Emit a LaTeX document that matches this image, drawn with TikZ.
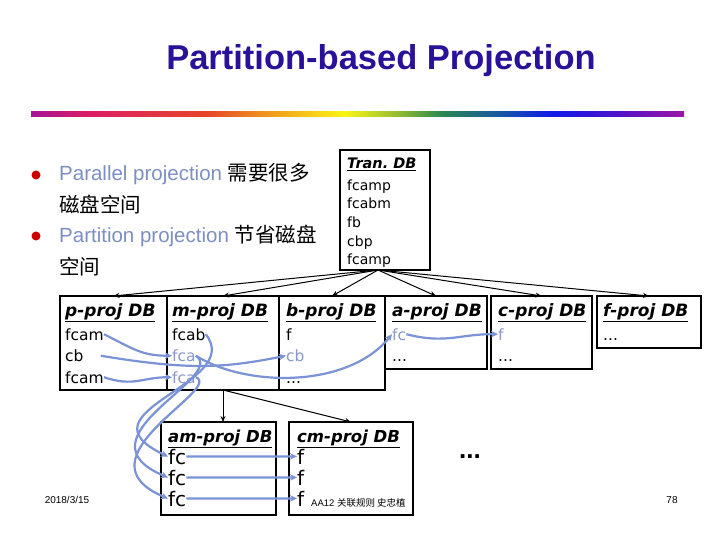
\documentclass[tikz,border=0pt]{standalone}
\usepackage{fontspec}
\setmainfont{Liberation Sans}
\newfontfamily\cjk{Noto Sans CJK SC}
\newfontfamily\dbfont{DejaVu Sans}
\usetikzlibrary{positioning, calc, arrows.meta}

\definecolor{titleblue}{RGB}{42,17,153}
\definecolor{softblue}{RGB}{125,143,192}
\definecolor{movedtext}{RGB}{136,152,200}
\definecolor{linkblue}{RGB}{122,146,214}
\definecolor{dotred}{RGB}{204,0,0}
\definecolor{rb0}{RGB}{165,20,150}
\definecolor{rb1}{RGB}{220,30,100}
\definecolor{rb2}{RGB}{230,70,40}
\definecolor{rb3}{RGB}{240,150,30}
\definecolor{rb4}{RGB}{250,245,20}
\definecolor{rb5}{RGB}{150,190,50}
\definecolor{rb6}{RGB}{40,135,80}
\definecolor{rb7}{RGB}{25,85,165}
\definecolor{rb8}{RGB}{15,25,235}
\definecolor{rb9}{RGB}{80,20,200}
\definecolor{rb10}{RGB}{155,20,165}
% the path covers 25bp to 75bp of the shading
\pgfdeclarehorizontalshading{rainbow}{100bp}{color(0bp)=(rb0); color(25bp)=(rb0);
  color(29.5bp)=(rb1); color(38.5bp)=(rb2); color(43bp)=(rb3); color(49bp)=(rb4);
  color(53bp)=(rb5); color(56.5bp)=(rb6); color(61bp)=(rb7); color(65bp)=(rb8);
  color(70bp)=(rb9); color(75bp)=(rb10); color(100bp)=(rb10)}

\tikzset{
  > = {Stealth[length = 6pt, width = 5pt]},
  dbbox/.style 2 args = {draw, line width = 1.1pt, anchor = north west,
    inner sep = 0, outer sep = 0, minimum width = #1, minimum height = #2},
  dbhead/.style = {anchor = base west, inner sep = 0,
    font = \dbfont\bfseries\itshape\fontsize{#1}{20}\selectfont},
  dbhead/.default = 17,
  dbline/.style = {anchor = base west, inner sep = 0,
    font = \dbfont\fontsize{#1}{20}\selectfont},
  dbline/.default = 15.5,
  moved/.style = {dbline = #1, text = movedtext},
  moved/.default = 15.5,
  bullettext/.style = {anchor = base west, inner sep = 0,
    font = \fontsize{20.5}{24}\selectfont},
  bulletdot/.style = {circle, fill = dotred, inner sep = 0, minimum size = 9pt},
  feed/.style = {->, line width = 1pt},
  projlink/.style = {-{Stealth[length = 7pt, width = 6.5pt]}, draw = linkblue,
    line width = 2.2pt}
}

\begin{document}
\begin{tikzpicture}[x = 1pt, y = -1pt]
\useasboundingbox (0,0) rectangle (720,540);

%% Title and rule
\node [font = \bfseries\fontsize{34.5}{40}\selectfont, text = titleblue] (title)
  at (381,61) {Partition-based Projection};
\shade [shading = rainbow] (31,112) rectangle (684,117);

%% Bullets
\node [bulletdot] (d1) at (36,175) {};
\node [bullettext] (l1) at (59,181) {\textcolor{softblue}{Parallel projection} {\cjk 需要很多}};
\node [bullettext] (l2) at (59,213) {\cjk 磁盘空间};
\node [bulletdot] (d2) at (36,236) {};
\node [bullettext] (l3) at (59,242) {\textcolor{softblue}{Partition projection} {\cjk 节省磁盘}};
\node [bullettext] (l4) at (59,274) {\cjk 空间};

%% Tran. DB
\node [dbbox = {90pt}{120pt}] (tran) at (340,150) {};
\node [dbhead = 14.5] (tranh) at (347,169) {\underline{Tran.\ DB}};
\node [dbline = 14] (t1) at (347,191) {fcamp};
\node [dbline = 14] (t2) at (347,209) {fcabm};
\node [dbline = 14] (t3) at (347,227.5) {fb};
\node [dbline = 14] (t4) at (347,246) {cbp};
\node [dbline = 14] (t5) at (347,264) {fcamp};

%% Projected DBs
\node [dbbox = {107pt}{94pt}] (p) at (60,296) {};
\node [dbhead] (ph) at (65,316) {\underline{p-proj DB}};
\node [dbline] (p1) at (65,340) {fcam};
\node [dbline] (p2) at (65,361.5) {cb};
\node [dbline] (p3) at (65,383) {fcam};

\node [dbbox = {112pt}{94pt}] (m) at (167,296) {};
\node [dbhead] (mh) at (172,316) {\underline{m-proj DB}};
\node [dbline] (m1) at (172,340) {fcab};
\node [moved] (m2) at (172,361.5) {fca};
\node [moved] (m3) at (172,383) {fca};

\node [dbbox = {106pt}{94pt}] (b) at (279,296) {};
\node [dbhead] (bh) at (286,316) {\underline{b-proj DB}};
\node [dbline] (b1) at (286,340) {f};
\node [moved] (b2) at (286,361.5) {cb};
\node [dbline] (b3) at (286,383) {...};

\node [dbbox = {102pt}{73pt}] (a) at (385,296) {};
\node [dbhead] (ah) at (392,316) {\underline{a-proj DB}};
\node [moved] (a1) at (392,340) {fc};
\node [dbline] (a2) at (392,361.5) {...};

\node [dbbox = {101pt}{73pt}] (c) at (491,296) {};
\node [dbhead] (ch) at (498,316) {\underline{c-proj DB}};
\node [moved] (c1) at (498,340) {f};
\node [dbline] (c2) at (498,361.5) {...};

\node [dbbox = {104pt}{52pt}] (f) at (597,296) {};
\node [dbhead] (fh) at (603,316) {\underline{f-proj DB}};
\node [dbline] (f1) at (603,340) {...};

%% Second level
\node [dbbox = {115pt}{93pt}] (am) at (161,422) {};
\node [dbhead = 16.5] (amh) at (168,442) {\underline{am-proj DB}};
\node [dbline = 20] (am1) at (168,464) {fc};
\node [dbline = 20] (am2) at (168,485) {fc};
\node [dbline = 20] (am3) at (168,506) {fc};

\node [dbbox = {124pt}{93pt}] (cm) at (289,422) {};
\node [dbhead = 16.5] (cmh) at (297,442) {\underline{cm-proj DB}};
\node [dbline = 20] (cm1) at (297,464) {f};
\node [dbline = 20] (cm2) at (297,485) {f};
\node [dbline = 20] (cm3) at (297,506) {f};
\node [anchor = base west, inner sep = 0, font = \fontsize{9.5}{11}\selectfont] (note)
  at (311,506) {AA12 {\cjk 关联规则 史忠植}};

\node [font = \bfseries\fontsize{26}{30}\selectfont] (more) at (470,457) {...};

%% Footer
\node [font = \fontsize{10}{12}\selectfont] (date) at (67,500) {2018/3/15};
\node [font = \fontsize{10}{12}\selectfont] (page) at (672,500) {78};

%% Partitioning arrows
\coordinate (tsrc) at ($(tran.south) + (-7,0)$);
\foreach \db in {p, m, b, a, c, f}
  \draw [feed] (tsrc) -- (\db.north);
\draw [feed] (m.south) -- (m.south |- am.north);
\draw [feed] (m.south) -- (cm.north);

%% Moved transactions
\draw [projlink] (p1.east) .. controls +(30,15) and +(-30,0) .. (m2.west);
\draw [projlink] ([xshift = 17pt]p2.east) .. controls +(90,15) and +(-60,12) .. (b2.west);
\draw [projlink] (p3.east) .. controls +(30,10) and +(-30,0) .. (m3.west);
\draw [projlink] (m2.east) .. controls +(49,31) and +(-45,55) .. (a1.west);
\draw [projlink] (m1.east) .. controls +(40,50) and +(-95,-45) .. (am1.west);
\draw [projlink] (m2.east) .. controls +(32,22) and +(-95,-40) .. (am2.west);
\draw [projlink] (m3.east) .. controls +(28,12) and +(-95,-40) .. (am3.west);
\draw [projlink] (a1.east) .. controls +(40,10) and +(-40,0) .. (c1.west);
\foreach \i in {1, 2, 3}
  \draw [projlink] (am\i.east) -- (cm\i.west);

\end{tikzpicture}
\end{document}
